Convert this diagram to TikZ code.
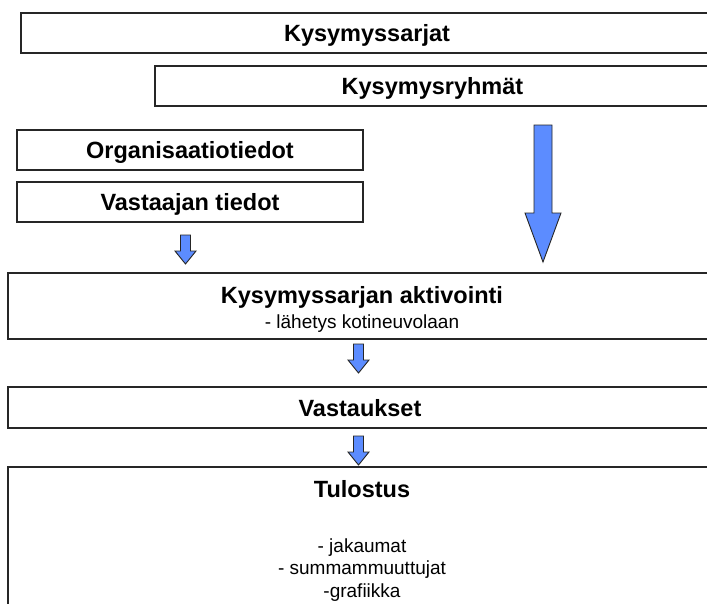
\documentclass[tikz,border=0pt]{standalone}
\usepackage{fontspec}
\setmainfont{Liberation Sans}
\definecolor{arrowblue}{RGB}{92,140,255}
\tikzset{
	box/.style={draw=black!85, line width=1.5pt, inner sep=0pt, text depth=0pt, font=\fontsize{23.5}{28}\selectfont\bfseries},
	title/.style={inner sep=0pt, anchor=base, font=\fontsize{23.5}{28}\selectfont\bfseries},
	item/.style={inner sep=0pt, anchor=base, font=\fontsize{19}{23}\selectfont},
	blockarrow/.style={draw=black!85, line width=0.9pt, fill=arrowblue, line join=miter}
}

\begin{document}
\begin{tikzpicture}[x=1pt, y=-1pt]
	\def \sw{ 5 }
	\def \hw{ 10.5 }
	\def \hl{ 13 }
	\useasboundingbox (0,0) rectangle (707,603);
	\fill[white] (0,0) rectangle (707,603);
	\clip (0,0) rectangle (707,603);

	\node[box, minimum width=692pt, minimum height=40pt] (sarjat) at (367,33) {Kysymyssarjat};
	\node[box, minimum width=555pt, minimum height=40pt] (ryhmat) at (432.5,86) {Kysymysryhmät};
	\node[box, minimum width=346pt, minimum height=40pt] (org) at (190,150) {Organisaatiotiedot};
	\node[box, minimum width=346pt, minimum height=40pt] (vastaaja) at (190,202) {Vastaajan tiedot};
	\node[box, minimum width=704pt, minimum height=66pt] (aktivointi) at (360,306) {};
	\node[box, minimum width=704pt, minimum height=41pt] (vastaukset) at (360,407.5) {Vastaukset};
	\node[box, minimum width=704pt, minimum height=180pt] (tulostus) at (360,557) {};

	\node[title] (aktivointi-otsikko) at (362,303) {Kysymyssarjan aktivointi};
	\node[item] (lahetys) at (362,328) {- lähetys kotineuvolaan};
	\node[title] (tulostus-otsikko) at (362,497) {Tulostus};
	\node[item] (jakaumat) at (362,552) {- jakaumat};
	\node[item] (summat) at (362,574.5) {- summammuuttujat};
	\node[item] (grafiikka) at (362,597) {-grafiikka};

	\draw[blockarrow] (534,125) -- (552,125) -- (552,213) -- (561,213) -- (543,262) -- (525,213) -- (534,213) -- cycle;
	\draw[blockarrow] (185.5-\sw,235) -- (185.5+\sw,235) -- (185.5+\sw,264-\hl) -- (185.5+\hw,264-\hl) -- (185.5,264) -- (185.5-\hw,264-\hl) -- (185.5-\sw,264-\hl) -- cycle;
	\draw[blockarrow] (358.5-\sw,344) -- (358.5+\sw,344) -- (358.5+\sw,373-\hl) -- (358.5+\hw,373-\hl) -- (358.5,373) -- (358.5-\hw,373-\hl) -- (358.5-\sw,373-\hl) -- cycle;
	\draw[blockarrow] (358.5-\sw,436) -- (358.5+\sw,436) -- (358.5+\sw,465-\hl) -- (358.5+\hw,465-\hl) -- (358.5,465) -- (358.5-\hw,465-\hl) -- (358.5-\sw,465-\hl) -- cycle;
\end{tikzpicture}
\end{document}
